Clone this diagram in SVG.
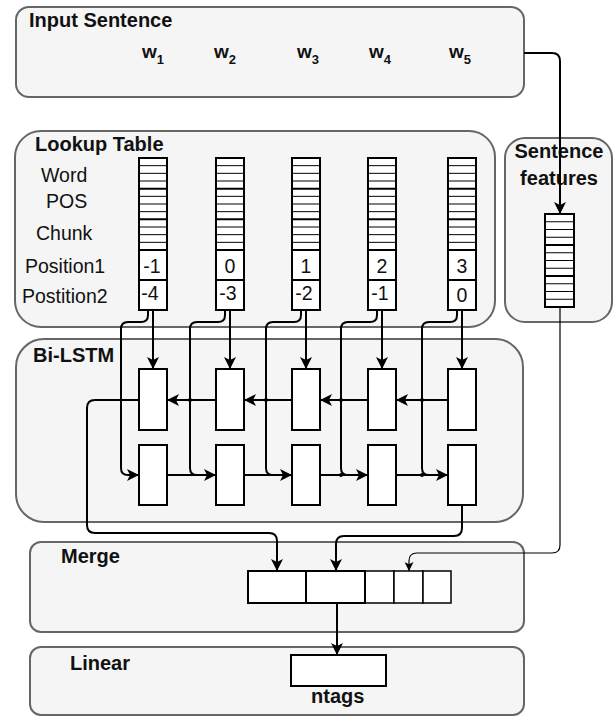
<svg xmlns="http://www.w3.org/2000/svg" width="615" height="717" viewBox="0 0 615 717">
<defs>
<style>
.box{fill:#f5f5f5;stroke:#666;stroke-width:2}
.title{font-family:"Liberation Sans",Arial,sans-serif;font-weight:bold;font-size:20px;fill:#111}
.lbl{font-family:"Liberation Sans",Arial,sans-serif;font-size:19.5px;fill:#111}
.num{font-family:"Liberation Sans",Arial,sans-serif;font-size:19.5px;fill:#111;text-anchor:middle}
.w{font-family:"Liberation Sans",Arial,sans-serif;font-weight:bold;font-size:19px;fill:#111}
.cell{fill:#fff;stroke:#000;stroke-width:2}
.cellt{fill:#fff;stroke:#000;stroke-width:1.5}
.stripe{stroke:#000;stroke-width:1;fill:none}
.sep{stroke:#000;stroke-width:2;fill:none}
.edge{fill:none;stroke:#000;stroke-width:2}
.thin{fill:none;stroke:#000;stroke-width:1.2}
</style>
<marker id="arr" markerUnits="userSpaceOnUse" markerWidth="12" markerHeight="12" refX="12" refY="6" orient="auto">
<path d="M0,0 L12,6 L0,12 L3,6 Z" fill="#000"/>
</marker>
<marker id="arrs" markerUnits="userSpaceOnUse" markerWidth="9" markerHeight="9" refX="9" refY="4.5" orient="auto">
<path d="M0,0 L9,4.5 L0,9 L2.2,4.5 Z" fill="#000"/>
</marker>
<g id="stripes">
<path class="stripe" d="M0,7.67H29M0,15.33H29M0,23H29M0,38.33H29M0,46H29M0,53.67H29M0,69H29M0,76.67H29M0,84.33H29"/>
<path class="sep" d="M0,30.67H29M0,61.33H29"/>
</g>
</defs>

<g id="input-sentence">
<rect class="box" x="16" y="7" width="508" height="90" rx="13"/>
<text class="title" x="29" y="27">Input Sentence</text>
<text class="w" x="142" y="58">w<tspan font-size="13" dy="6">1</tspan></text>
<text class="w" x="214" y="58">w<tspan font-size="13" dy="6">2</tspan></text>
<text class="w" x="297" y="58">w<tspan font-size="13" dy="6">3</tspan></text>
<text class="w" x="369" y="58">w<tspan font-size="13" dy="6">4</tspan></text>
<text class="w" x="449" y="58">w<tspan font-size="13" dy="6">5</tspan></text>
</g>

<g id="lookup-table">
<rect class="box" x="15" y="131" width="480" height="196" rx="26"/>
<text class="title" x="35" y="151">Lookup Table</text>
<text class="lbl" x="41" y="182">Word</text>
<text class="lbl" x="46" y="208">POS</text>
<text class="lbl" x="36" y="240">Chunk</text>
<text class="lbl" x="25" y="273">Position1</text>
<text class="lbl" x="22" y="303">Postition2</text>
</g>

<g id="lookup-col-1">
<rect class="cell" x="139" y="158" width="28" height="92"/>
<use href="#stripes" x="139" y="158"/>
<rect class="cell" x="139" y="250" width="28" height="30"/>
<rect class="cell" x="139" y="280" width="28" height="30"/>
<text class="num" x="152" y="273">-1</text>
<text class="num" x="150" y="300">-4</text>
</g>
<g id="lookup-col-2">
<rect class="cell" x="216" y="158" width="28" height="92"/>
<use href="#stripes" x="216" y="158"/>
<rect class="cell" x="216" y="250" width="28" height="30"/>
<rect class="cell" x="216" y="280" width="28" height="30"/>
<text class="num" x="230" y="273">0</text>
<text class="num" x="228" y="300">-3</text>
</g>
<g id="lookup-col-3">
<rect class="cell" x="292" y="158" width="28" height="92"/>
<use href="#stripes" x="292" y="158"/>
<rect class="cell" x="292" y="250" width="28" height="30"/>
<rect class="cell" x="292" y="280" width="28" height="30"/>
<text class="num" x="306" y="273">1</text>
<text class="num" x="304" y="300">-2</text>
</g>
<g id="lookup-col-4">
<rect class="cell" x="368" y="158" width="28" height="92"/>
<use href="#stripes" x="368" y="158"/>
<rect class="cell" x="368" y="250" width="28" height="30"/>
<rect class="cell" x="368" y="280" width="28" height="30"/>
<text class="num" x="382" y="273">2</text>
<text class="num" x="380" y="300">-1</text>
</g>
<g id="lookup-col-5">
<rect class="cell" x="448" y="158" width="28" height="92"/>
<use href="#stripes" x="448" y="158"/>
<rect class="cell" x="448" y="250" width="28" height="30"/>
<rect class="cell" x="448" y="280" width="28" height="30"/>
<text class="num" x="462" y="273">3</text>
<text class="num" x="462" y="302">0</text>
</g>

<g id="sentence-features">
<rect class="box" x="505" y="138" width="107" height="184" rx="20"/>
<text class="title" x="559" y="158" text-anchor="middle">Sentence</text>
<text class="title" x="559" y="185" text-anchor="middle">features</text>
<rect class="cell" x="545" y="214" width="29" height="93"/>
<path class="stripe" d="M545,221.75H574M545,229.5H574M545,237.25H574M545,252.75H574M545,260.5H574M545,268.25H574M545,283.75H574M545,291.5H574M545,299.25H574"/>
<path class="sep" d="M545,245H574M545,276H574"/>
</g>

<g id="bi-lstm">
<rect class="box" x="16" y="339" width="507" height="183" rx="28"/>
<text class="title" x="33" y="362">Bi-LSTM</text>
</g>
<g id="lstm-fwd">
<rect class="cell" x="139" y="369" width="28" height="61"/>
<rect class="cell" x="216" y="369" width="28" height="61"/>
<rect class="cell" x="292" y="369" width="28" height="61"/>
<rect class="cell" x="368" y="369" width="28" height="61"/>
<rect class="cell" x="448" y="369" width="28" height="61"/>
</g>
<g id="lstm-bwd">
<rect class="cell" x="139" y="445" width="28" height="60"/>
<rect class="cell" x="216" y="445" width="28" height="60"/>
<rect class="cell" x="292" y="445" width="28" height="60"/>
<rect class="cell" x="368" y="445" width="28" height="60"/>
<rect class="cell" x="448" y="445" width="28" height="60"/>
</g>

<g id="merge">
<rect class="box" x="30" y="542" width="494" height="90" rx="11"/>
<text class="title" x="61" y="563">Merge</text>
<rect class="cellt" x="365" y="571" width="29" height="32"/>
<rect class="cellt" x="394" y="571" width="29" height="32"/>
<rect class="cellt" x="423" y="571" width="28" height="32"/>
<rect class="cell" x="248" y="571" width="58" height="32"/>
<rect class="cell" x="306" y="571" width="59" height="32"/>
</g>

<g id="linear">
<rect class="box" x="30" y="647" width="494" height="68" rx="11"/>
<text class="title" x="70" y="670">Linear</text>
<rect class="cell" x="291" y="655" width="95" height="31"/>
<text class="title" x="311" y="703">ntags</text>
</g>

<g id="connectors">
<path class="edge" d="M524,53 H552 Q560,53 560,61 V214" marker-end="url(#arr)"/>
<path class="thin" d="M560,307 V545 Q560,553 552,553 H417 Q409,553 409,561 V571" marker-end="url(#arrs)"/>
<path class="edge" d="M153,310 V369" marker-end="url(#arr)"/>
<path class="edge" d="M230,310 V369" marker-end="url(#arr)"/>
<path class="edge" d="M306,310 V369" marker-end="url(#arr)"/>
<path class="edge" d="M382,310 V369" marker-end="url(#arr)"/>
<path class="edge" d="M462,310 V369" marker-end="url(#arr)"/>
<path class="edge" d="M148,310 V315 Q148,322 141,322 H128 Q121,322 121,329 V468 Q121,475 128,475 H139" marker-end="url(#arr)"/>
<path class="edge" d="M225,310 V315 Q225,322 218,322 H197 Q190,322 190,329 V468 Q190,475 197,475 H205"/>
<path class="edge" d="M301,310 V315 Q301,322 294,322 H273 Q266,322 266,329 V468 Q266,475 273,475 H281"/>
<path class="edge" d="M377,310 V315 Q377,322 370,322 H348 Q341,322 341,329 V468 Q341,475 348,475 H356"/>
<path class="edge" d="M457,310 V315 Q457,322 450,322 H429 Q422,322 422,329 V468 Q422,475 429,475 H437"/>
<path class="edge" d="M216,400 H167" marker-end="url(#arr)"/>
<path class="edge" d="M292,400 H244" marker-end="url(#arr)"/>
<path class="edge" d="M368,400 H320" marker-end="url(#arr)"/>
<path class="edge" d="M448,400 H396" marker-end="url(#arr)"/>
<path class="edge" d="M167,475 H216" marker-end="url(#arr)"/>
<path class="edge" d="M244,475 H292" marker-end="url(#arr)"/>
<path class="edge" d="M320,475 H368" marker-end="url(#arr)"/>
<path class="edge" d="M396,475 H448" marker-end="url(#arr)"/>
<g fill="#000">
<circle cx="190" cy="400" r="2"/><circle cx="266" cy="400" r="2"/><circle cx="341" cy="400" r="2"/><circle cx="422" cy="400" r="2"/>
<circle cx="341" cy="475" r="2"/><circle cx="422" cy="475" r="2"/>
</g>
<path class="edge" d="M139,400 H95 Q87,400 87,408 V525 Q87,533 95,533 H269 Q277,533 277,541 V571" marker-end="url(#arr)"/>
<path class="edge" d="M462,505 V528 Q462,536 454,536 H344 Q336,536 336,544 V571" marker-end="url(#arr)"/>
<path class="edge" d="M337,603 V655" marker-end="url(#arr)"/>
</g>
</svg>
